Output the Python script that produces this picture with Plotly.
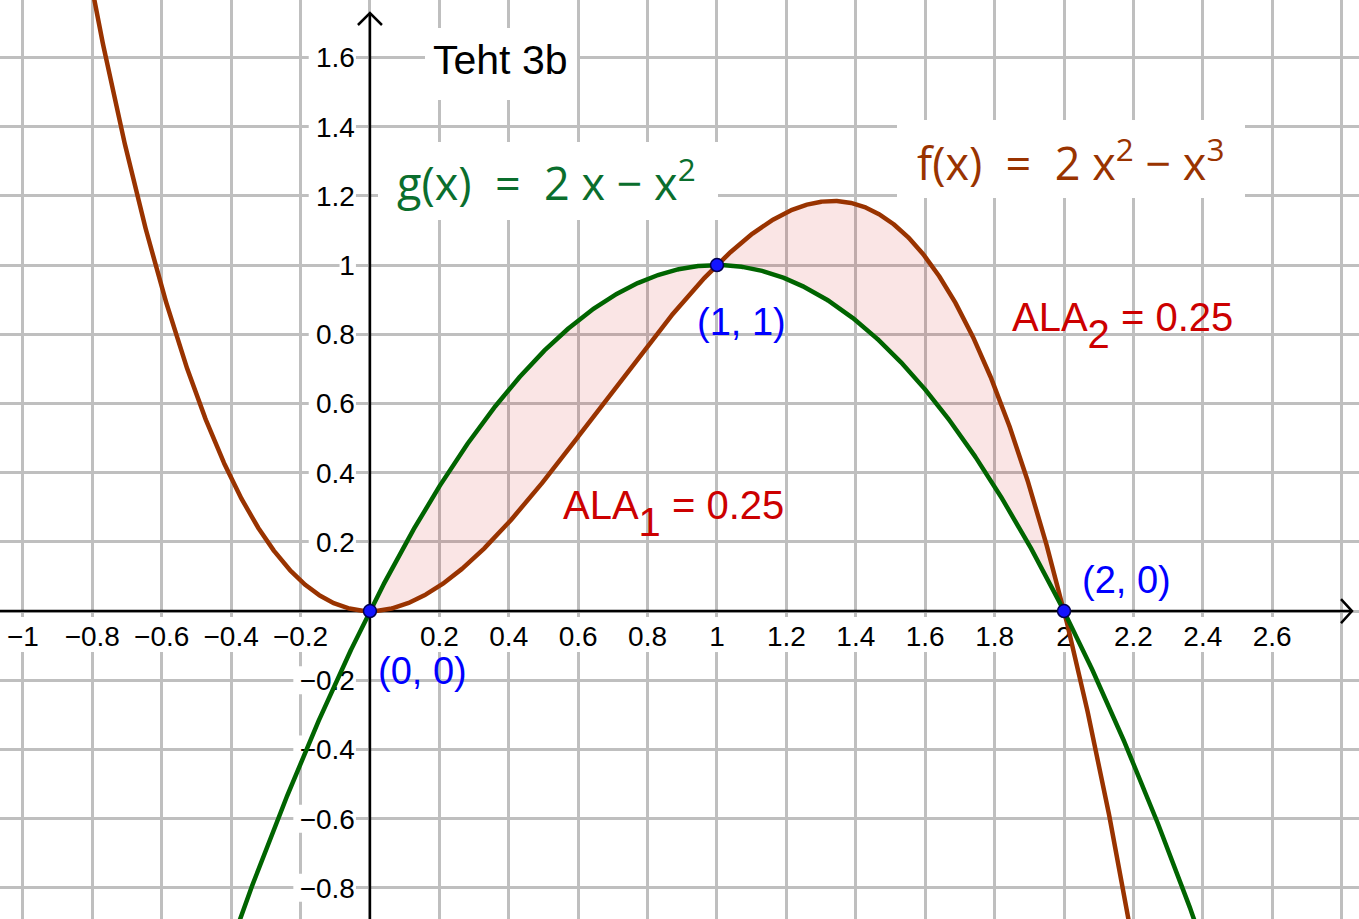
import numpy as np
import plotly.graph_objects as go

# Functions as polynomial coefficients (highest power first)
F_COEFFS = [-1, 2, 0, 0]      # f(x) = 2x^2 - x^3
G_COEFFS = [-1, 2, 0]         # g(x) = 2x - x^2

X_RANGE = [-1.066, 2.850]
Y_RANGE = [-0.890, 1.766]

X_TICKS = [-1, -0.8, -0.6, -0.4, -0.2, 0.2, 0.4, 0.6, 0.8, 1,
           1.2, 1.4, 1.6, 1.8, 2, 2.2, 2.4, 2.6]
X_TICK_LABELS = ["−1", "−0.8", "−0.6", "−0.4", "−0.2", "0.2", "0.4", "0.6", "0.8", "1",
                 "1.2", "1.4", "1.6", "1.8", "2", "2.2", "2.4", "2.6"]
Y_TICKS = [-0.8, -0.6, -0.4, -0.2, 0.2, 0.4, 0.6, 0.8, 1, 1.2, 1.4, 1.6]
Y_TICK_LABELS = ["−0.8", "−0.6", "−0.4", "−0.2", "0.2", "0.4", "0.6", "0.8", "1",
                 "1.2", "1.4", "1.6"]

TITLE = "Teht 3b"

W, H = 1359, 919
SX = W / (X_RANGE[1] - X_RANGE[0])   # pixels per x unit
SY = H / (Y_RANGE[1] - Y_RANGE[0])   # pixels per y unit


def dx(px):
    return px / SX


def dy(px):
    return px / SY


def px2x(px):
    return X_RANGE[0] + px / SX


def py2y(py):
    return Y_RANGE[1] - py / SY


BROWN = "rgb(153,51,0)"
GREEN = "rgb(0,100,0)"
GREEN_TEXT = "rgb(10,110,45)"
RED = "rgb(204,0,0)"
BLUE = "rgb(0,0,255)"
GRID = "#bfbfbf"
LABEL_FONT = "Liberation Sans, Arial, sans-serif"
MATH_FONT = "Open Sans, sans-serif"

f = np.poly1d(F_COEFFS)
g = np.poly1d(G_COEFFS)

# Intersection points of f and g
diff = np.polysub(F_COEFFS, G_COEFFS)
roots = np.sort(np.real(np.roots(diff)))
roots = np.round(roots, 10)
pts_x = roots
pts_y = g(roots)

# Enclosed areas between consecutive intersections
antider = np.polyint(np.poly1d(diff))
areas = [abs(antider(b) - antider(a)) for a, b in zip(roots[:-1], roots[1:])]

xs = np.linspace(X_RANGE[0], X_RANGE[1], 2000)
xs_fill = np.linspace(roots[0], roots[-1], 800)

fig = go.Figure()

# Shaded region between the curves
fig.add_trace(go.Scatter(
    x=np.concatenate([xs_fill, xs_fill[::-1]]),
    y=np.concatenate([f(xs_fill), g(xs_fill[::-1])]),
    mode="lines", fill="toself", fillcolor="rgba(204,0,0,0.1)",
    line=dict(width=0), hoverinfo="skip"))

# Coordinate axes with open arrowheads
ax_w = 2.5
x_tip = X_RANGE[1] - dx(7)
y_tip = Y_RANGE[1] - dy(13)
fig.add_trace(go.Scatter(x=[X_RANGE[0], x_tip], y=[0, 0], mode="lines",
                         line=dict(color="black", width=ax_w), hoverinfo="skip"))
fig.add_trace(go.Scatter(x=[x_tip - dx(11), x_tip, x_tip - dx(11)],
                         y=[dy(12), 0, -dy(12)], mode="lines",
                         line=dict(color="black", width=ax_w), hoverinfo="skip"))
fig.add_trace(go.Scatter(x=[0, 0], y=[Y_RANGE[0], y_tip], mode="lines",
                         line=dict(color="black", width=ax_w), hoverinfo="skip"))
fig.add_trace(go.Scatter(x=[-dx(12), 0, dx(12)],
                         y=[y_tip - dy(12), y_tip, y_tip - dy(12)], mode="lines",
                         line=dict(color="black", width=ax_w), hoverinfo="skip"))

# Tick labels (white backing boxes go under them)
TICK_SIZE = 28
shapes = []


def text_w(s, size):
    return len(s) * 0.55 * size


x_lab_y = -dy(28)
for t, s in zip(X_TICKS, X_TICK_LABELS):
    w = text_w(s, TICK_SIZE) + 4
    shapes.append(dict(type="rect", layer="between", xref="x", yref="y",
                       x0=t - dx(w / 2), x1=t + dx(w / 2), y0=-dy(41), y1=-dy(6),
                       fillcolor="white", line=dict(width=0)))
fig.add_trace(go.Scatter(x=X_TICKS, y=[x_lab_y] * len(X_TICKS), mode="text",
                         text=X_TICK_LABELS, textposition="middle center",
                         textfont=dict(family=LABEL_FONT, size=TICK_SIZE, color="black"),
                         hoverinfo="skip"))

y_lab_x = -dx(15)
for t, s in zip(Y_TICKS, Y_TICK_LABELS):
    w = text_w(s, TICK_SIZE)
    shapes.append(dict(type="rect", layer="between", xref="x", yref="y",
                       x0=y_lab_x - dx(w), x1=y_lab_x + dx(1),
                       y0=t - dy(14), y1=t + dy(14),
                       fillcolor="white", line=dict(width=0)))
fig.add_trace(go.Scatter(x=[y_lab_x] * len(Y_TICKS), y=[t - dy(3) for t in Y_TICKS],
                         mode="text",
                         text=Y_TICK_LABELS, textposition="middle left",
                         textfont=dict(family=LABEL_FONT, size=TICK_SIZE, color="black"),
                         hoverinfo="skip"))

# Curves
fig.add_trace(go.Scatter(x=xs, y=f(xs), mode="lines",
                         line=dict(color=BROWN, width=4.5), hoverinfo="skip"))
fig.add_trace(go.Scatter(x=xs, y=g(xs), mode="lines",
                         line=dict(color=GREEN, width=4.5), hoverinfo="skip"))

# Intersection points
fig.add_trace(go.Scatter(x=pts_x, y=pts_y, mode="markers",
                         marker=dict(size=13, color="rgb(20,20,255)",
                                     line=dict(color="rgb(0,0,80)", width=1.5)),
                         hoverinfo="skip"))

# White boxes behind the title and formula labels (pixel boxes)
for (l, t, r, b) in [(425, 28, 577, 100), (897, 120, 1245, 198), (378, 142, 718, 220)]:
    shapes.append(dict(type="rect", layer="between", xref="x", yref="y",
                       x0=px2x(l), x1=px2x(r), y0=py2y(b), y1=py2y(t),
                       fillcolor="white", line=dict(width=0)))

annotations = []
annotations.append(dict(x=px2x(431), y=py2y(60), xref="x", yref="y", text=TITLE,
                        xanchor="left", yanchor="middle", showarrow=False,
                        font=dict(family=LABEL_FONT, size=41, color="black")))

NB = "\u00a0"
annotations.append(dict(
    x=px2x(1070), y=py2y(160), xref="x", yref="y",
    text=f"f(x){NB}{NB}={NB}{NB}2{NB}x<sup>2</sup>{NB}−{NB}x<sup>3</sup>",
    xanchor="center", yanchor="middle", showarrow=False,
    font=dict(family=MATH_FONT, size=45, color=BROWN)))
annotations.append(dict(
    x=px2x(546), y=py2y(180), xref="x", yref="y",
    text=f"g(x){NB}{NB}={NB}{NB}2{NB}x{NB}−{NB}x<sup>2</sup>",
    xanchor="center", yanchor="middle", showarrow=False,
    font=dict(family=MATH_FONT, size=45, color=GREEN_TEXT)))

# Area labels
ala_pos = [(px2x(561), py2y(513)), (px2x(1010), py2y(325))]
for i, ((ax, ay), a) in enumerate(zip(ala_pos, areas), start=1):
    annotations.append(dict(
        x=ax, y=ay, xref="x", yref="y",
        text=f'ALA<span style="baseline-shift:-17px">{i}</span> = {a:.2f}',
        xanchor="left", yanchor="middle", showarrow=False,
        font=dict(family=LABEL_FONT, size=40, color=RED)))

# Point labels
shifts = [(6, -60), (-22, -57), (16, 31)]
for px_, py_, (xs_, ys_) in zip(pts_x, pts_y, shifts):
    annotations.append(dict(
        x=px_, y=py_, xref="x", yref="y",
        text=f"({px_:g}, {py_:g})",
        xanchor="left", yanchor="middle", xshift=xs_, yshift=ys_, showarrow=False,
        font=dict(family=LABEL_FONT, size=38, color=BLUE)))

fig.update_layout(
    width=W, height=H, margin=dict(l=0, r=0, t=0, b=0),
    paper_bgcolor="white", plot_bgcolor="white", showlegend=False,
    shapes=shapes, annotations=annotations,
    xaxis=dict(range=X_RANGE, tick0=0, dtick=0.2, showgrid=True, gridcolor=GRID,
               gridwidth=2.5, zeroline=False, showticklabels=False, ticks="",
               showline=False, fixedrange=True),
    yaxis=dict(range=Y_RANGE, tick0=0, dtick=0.2, showgrid=True, gridcolor=GRID,
               gridwidth=2.5, zeroline=False, showticklabels=False, ticks="",
               showline=False, fixedrange=True),
)

fig.write_html("out.html")
